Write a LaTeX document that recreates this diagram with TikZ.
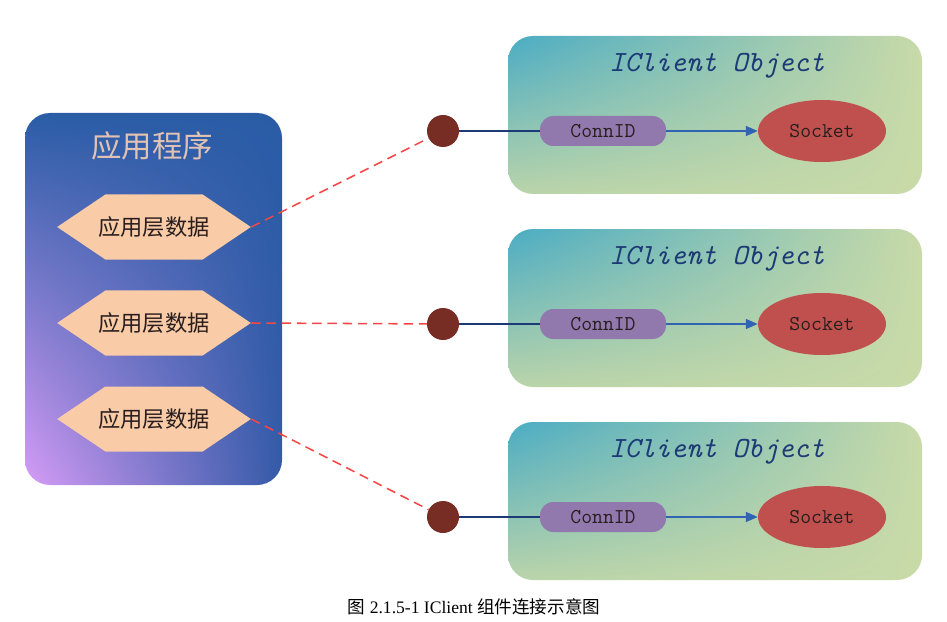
\documentclass[tikz,border=0pt]{standalone}
\usepackage{fontspec}
\setmainfont{Liberation Serif}
\newfontfamily\cjk{Noto Sans CJK SC}
\usetikzlibrary{shapes.geometric, shapes.symbols, arrows.meta, positioning, shadings}
\definecolor{cAppBlue}{RGB}{42,92,166}
\definecolor{cAppBlueB}{RGB}{52,90,168}
\definecolor{cLilac}{RGB}{214,156,246}
\definecolor{cTitle}{RGB}{226,194,179}
\definecolor{cPeach}{RGB}{249,203,167}
\definecolor{cTeal}{RGB}{74,172,196}
\definecolor{cPale}{RGB}{200,218,168}
\definecolor{cPaleB}{RGB}{186,212,170}
\definecolor{cNavy}{RGB}{28,58,117}
\definecolor{cConn}{RGB}{145,121,174}
\definecolor{cSock}{RGB}{192,80,77}
\definecolor{cDot}{RGB}{119,44,36}
\definecolor{cLink}{RGB}{46,100,176}
\definecolor{cDash}{RGB}{245,70,70}
\definecolor{cText}{RGB}{40,30,30}
\tikzset{
	datahex/.style ={signal, signal to=west and east, signal pointer angle=68, minimum height=1.95cm, inner xsep=-0.21cm, inner ysep=0pt, fill=cPeach, text=cText, font=\cjk\fontsize{19}{19}\selectfont},
	connid/.style  ={rectangle, rounded corners=0.4cm, minimum width=3.78cm, minimum height=0.9cm, inner sep=0pt, fill=cConn, text=cText, font=\ttfamily\fontsize{18}{18}\selectfont},
	socket/.style  ={ellipse, minimum width=3.84cm, minimum height=1.86cm, inner sep=0pt, fill=cSock, text=cText, font=\ttfamily\fontsize{18}{18}\selectfont},
	enddot/.style  ={circle, minimum size=0.96cm, inner sep=0pt, fill=cDot},
	bindline/.style={cNavy, line width=1.2pt},
	sockarrow/.style={-{Triangle[length=0.36cm, width=0.3cm]}, cLink, line width=1.2pt},
	reqline/.style ={cDash, line width=1.3pt, dash pattern=on 8pt off 5pt},
}
\begin{document}
\begin{tikzpicture}[x=0.03cm, y=-0.03cm]
	\useasboundingbox (0,0) rectangle (947,622);
	% application block
	\shade[rounded corners=0.75cm, upper left=cAppBlue, upper right=cAppBlue, lower right=cAppBlueB, lower left=cLilac]
		(25,300) -- (25,113) -- (282,113) -- (282,485) -- (25,485) -- cycle;
	\node[text=cTitle, font=\cjk\fontsize{26}{26}\selectfont] (app) at (152,146) {应用程序};
	\foreach \i/\y in {1/227, 2/323, 3/419}
		\node[datahex] (h\i) at (154,\y) {应用层数据};
	% client objects
	\foreach \i/\d in {1/0, 2/193, 3/386} {
		\shade[rounded corners=0.75cm, upper left=cTeal, upper right=cPale, lower right=cPale, lower left=cPaleB]
			(508,115+\d) -- (508,36+\d) -- (922,36+\d) -- (922,194+\d) -- (508,194+\d) -- cycle;
		\node[text=cNavy, font=\ttfamily\itshape\fontsize{25}{25}\selectfont] (obj\i) at (717,66+\d) {IClient Object};
		\node[connid] (c\i) at (603,131+\d) {ConnID};
		\node[socket] (s\i) at (822,131+\d) {Socket};
		\node[enddot] (d\i) at (443,131+\d) {};
		\draw[bindline] (d\i) -- (c\i);
		\draw[sockarrow] (c\i) -- (s\i);
		\draw[reqline] (h\i.east) -- (d\i);
	}
	\node[font=\fontsize{15}{15}\selectfont] (cap) at (474,607) {{\cjk 图} 2.1.5-1 IClient {\cjk 组件连接示意图}};
\end{tikzpicture}
\end{document}
